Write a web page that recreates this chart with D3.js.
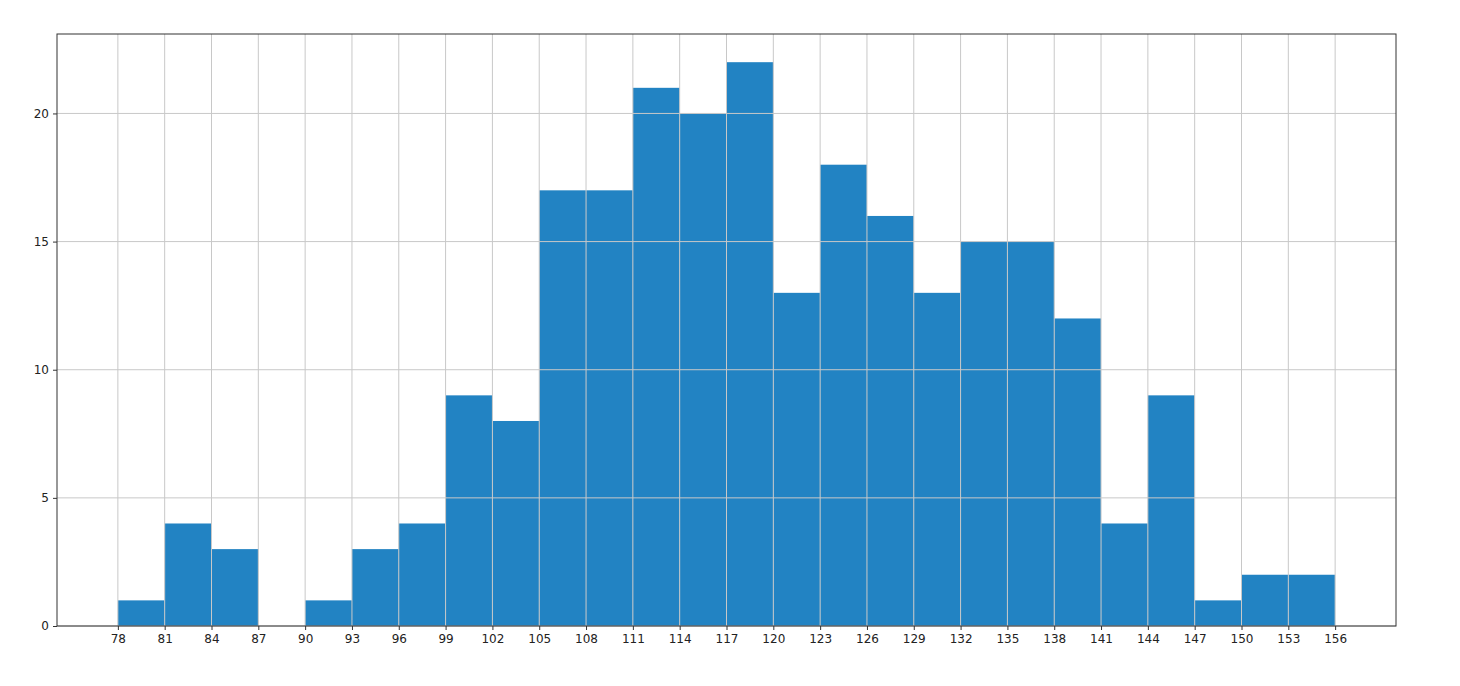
<html>
<head>
<script src="https://d3js.org/d3.v7.min.js"></script>
<style>
  body { margin: 0; background: #fff; }
  text { font-family: "DejaVu Sans", sans-serif; }
</style>
</head>
<body>
<div id="chart"></div>
<script>
const binStart = 78;
const binWidth = 3;
const counts = [1, 4, 3, 0, 1, 3, 4, 9, 8, 17, 17, 21, 20, 22, 13, 18, 16, 13, 15, 15, 12, 4, 9, 1, 2, 2];
const xTicks = d3.range(78, 157, 3);
const yTicks = [0, 5, 10, 15, 20];

const svg = d3.select("#chart").append("svg")
  .attr("width", 1460).attr("height", 686);

const margin = { left: 57, right: 64, top: 34, bottom: 60 };
const width = 1460 - margin.left - margin.right;
const height = 686 - margin.top - margin.bottom;
const g = svg.append("g").attr("transform", `translate(${margin.left},${margin.top})`);

const x = d3.scaleLinear().domain([74.1, 159.9]).range([0, width]);
const y = d3.scaleLinear().domain([0, 23.1]).range([height, 0]);

const bins = counts.map((c, i) => ({ x0: binStart + i * binWidth, x1: binStart + (i + 1) * binWidth, c }));

g.selectAll("rect.bar").data(bins).enter().append("rect")
  .attr("class", "bar")
  .attr("x", d => x(d.x0))
  .attr("width", d => x(d.x1) - x(d.x0))
  .attr("y", d => y(d.c))
  .attr("height", d => y(0) - y(d.c))
  .attr("fill", "#2283c3");

// grid on top of bars
g.selectAll("line.vg").data(xTicks).enter().append("line")
  .attr("x1", d => x(d)).attr("x2", d => x(d))
  .attr("y1", 0).attr("y2", height)
  .attr("stroke", "#c8c8c8").attr("stroke-width", 1);
g.selectAll("line.hg").data(yTicks).enter().append("line")
  .attr("y1", d => y(d)).attr("y2", d => y(d))
  .attr("x1", 0).attr("x2", width)
  .attr("stroke", "#c8c8c8").attr("stroke-width", 1);

const xAxis = g.append("g").attr("transform", `translate(0,${height})`)
  .call(d3.axisBottom(x).tickValues(xTicks).tickSize(4).tickSizeOuter(0).tickPadding(4));
const yAxis = g.append("g")
  .call(d3.axisLeft(y).tickValues(yTicks).tickSize(4).tickSizeOuter(0).tickPadding(4));
[xAxis, yAxis].forEach(a => {
  a.select(".domain").remove();
  a.selectAll("text").attr("font-size", 12).attr("fill", "#222");
  a.selectAll("line").attr("stroke", "#333");
});

g.append("rect").attr("width", width).attr("height", height)
  .attr("fill", "none").attr("stroke", "#333").attr("stroke-width", 1);
</script>
</body>
</html>
